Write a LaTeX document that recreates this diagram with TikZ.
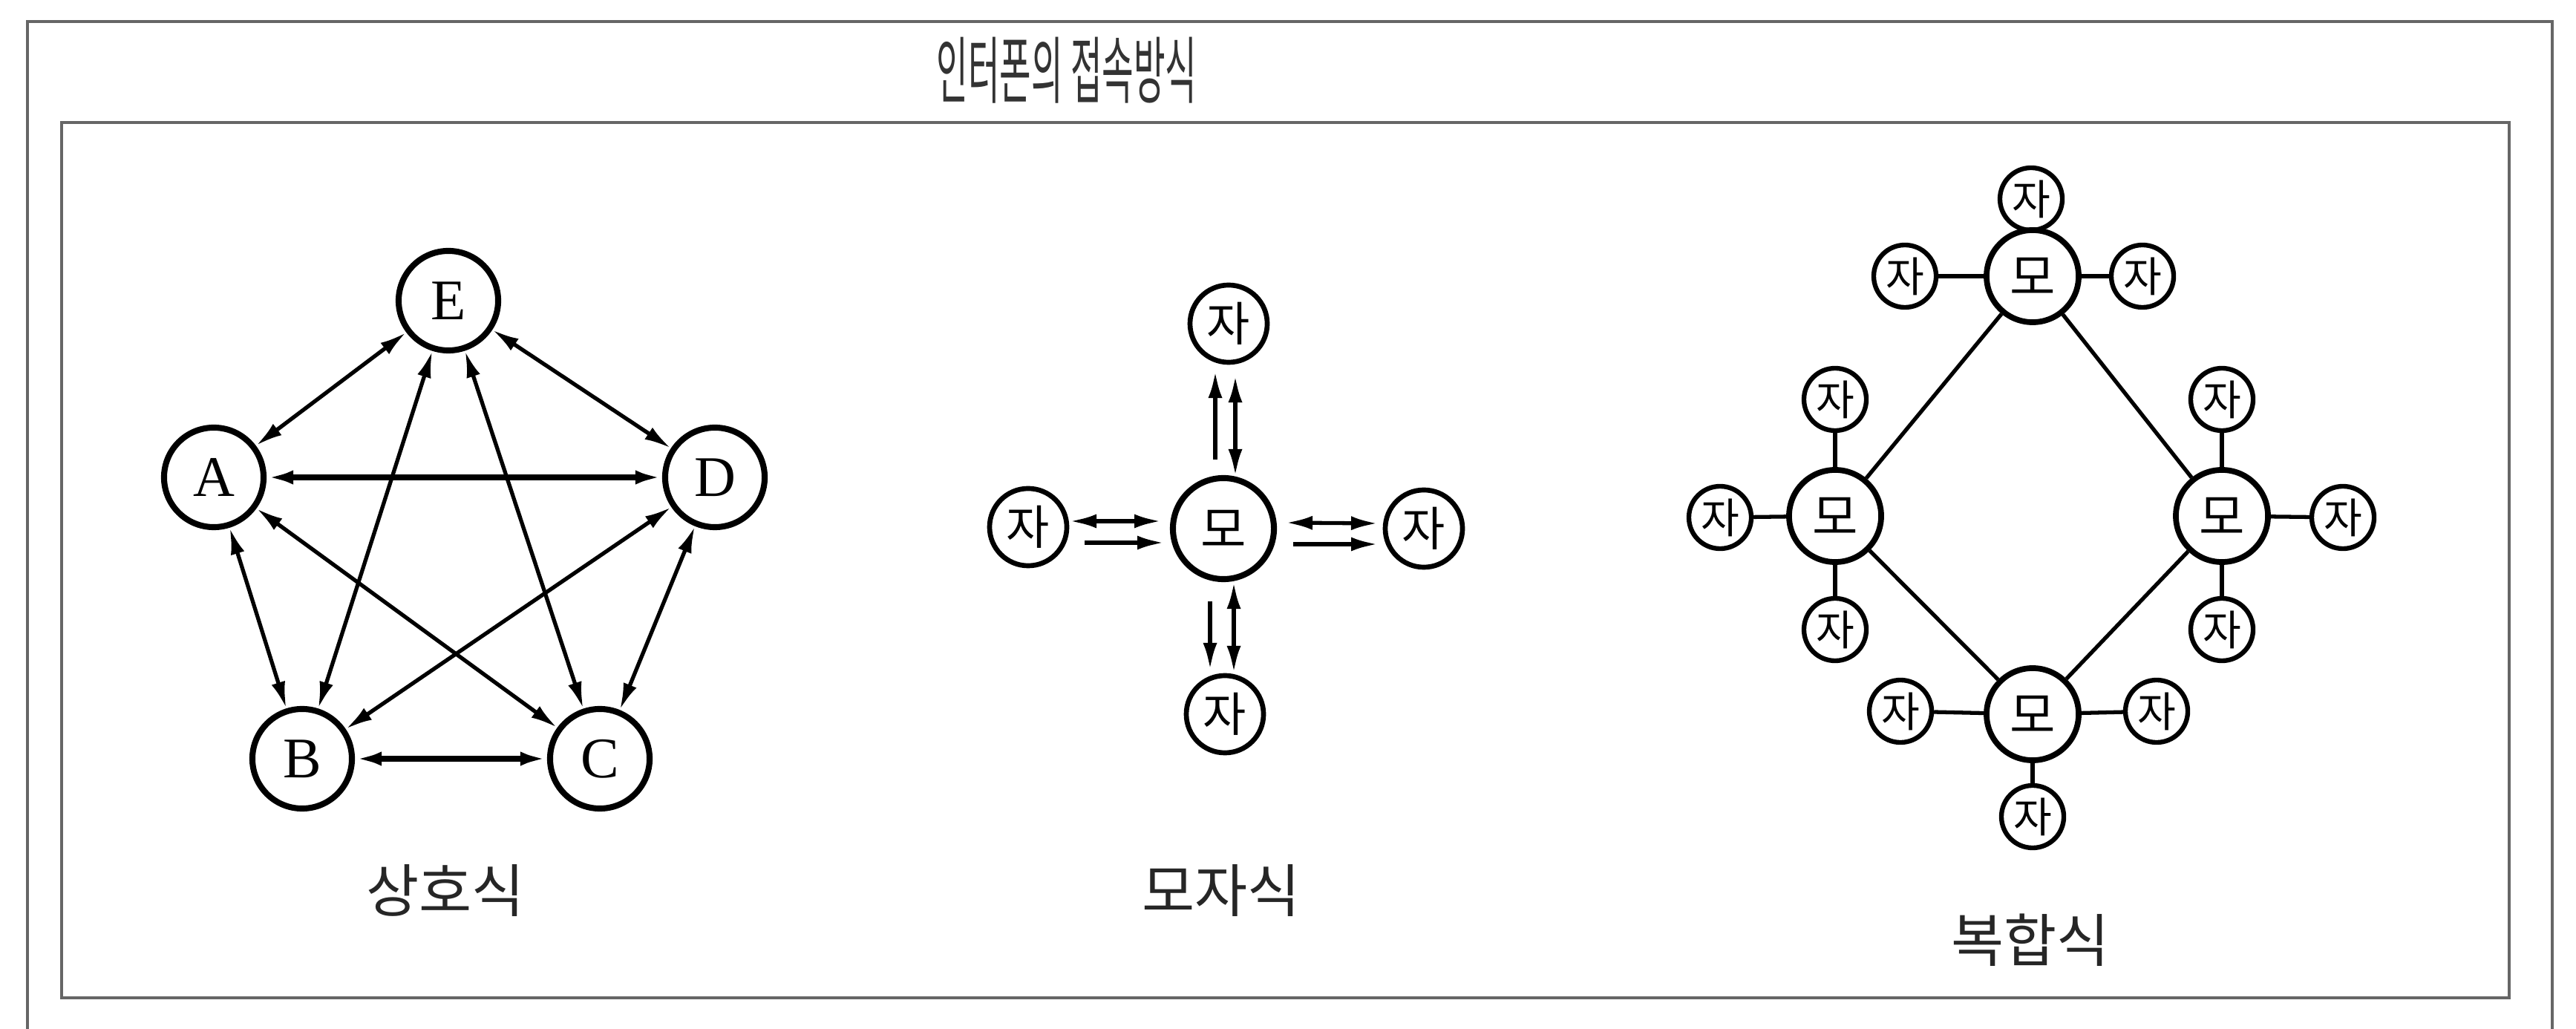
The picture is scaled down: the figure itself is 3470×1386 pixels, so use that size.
\documentclass[tikz,border=0pt]{standalone}
\usepackage{fontspec}
\setmainfont{Liberation Serif}
\newfontfamily\kr{Noto Sans CJK KR}
\usetikzlibrary{arrows.meta,calc}
\begin{document}
\begin{tikzpicture}[x=0.01cm,y=-0.01cm,
  frameline/.style={draw=black!60, line width=1.3pt},
  letternode/.style={circle, draw, line width=2.3pt, minimum size=1.34cm, inner sep=0pt, font=\fontsize{22}{22}\selectfont},
  monode/.style={circle, draw, line width=2.3pt, minimum size=1.36cm, inner sep=0pt, font=\kr\fontsize{19}{19}\selectfont},
  janode/.style={circle, draw, line width=1.9pt, minimum size=1.04cm, inner sep=0pt, font=\kr\fontsize{18}{18}\selectfont},
  rmonode/.style={circle, draw, line width=2.2pt, minimum size=1.24cm, inner sep=0pt, font=\kr\fontsize{19}{19}\selectfont},
  rjanode/.style={circle, draw, line width=1.8pt, minimum size=0.84cm, inner sep=0pt, font=\kr\fontsize{16}{16}\selectfont},
  caption/.style={font=\kr\fontsize{22}{22}\selectfont, text=black!85},
  link/.style={line width=1.5pt},
  thicklink/.style={line width=2.1pt},
  tip/.tip={Latex[length=0.36cm,width=0.19cm]},
  both/.style={tip-tip},
  fwd/.style={-tip}
]
\useasboundingbox (0,0) rectangle (3470,1386);
% frames
\draw[frameline] (37,1386) -- (37,29) -- (3438,29) -- (3438,1386);
\draw[frameline] (83,165) rectangle (3380,1344);
\node (title) at (1437,95) {\kr\fontsize{28}{28}\selectfont\color{black!80}\scalebox{0.47}[1]{인터폰의 접속방식}};

% ---------- 상호식 ----------
\node[letternode] (E) at (604,405) {E};
\node[letternode] (A) at (288,643) {A};
\node[letternode] (D) at (963,643) {D};
\node[letternode] (B) at (407,1022) {B};
\node[letternode] (C) at (808,1022) {C};
\draw[link,both] (E) -- (A);
\draw[link,both] (E) -- (D);
\draw[thicklink,both] (A) -- (D);
\draw[link,both] (A) -- (B);
\draw[link,both] (D) -- (C);
\draw[thicklink,both] (B) -- (C);
\draw[link,both] (E) -- (B);
\draw[link,both] (E) -- (C);
\draw[link,both] (A) -- (C);
\draw[link,both] (D) -- (B);
\node[caption] (cap1) at (600,1200) {상호식};

% ---------- 모자식 ----------
\node[monode] (m) at (1648,712) {모};
\node[janode] (mt) at (1655,436) {자};
\node[janode] (ml) at (1385,710) {자};
\node[janode] (mr) at (1918,712) {자};
\node[janode] (mb) at (1650,962) {자};
\draw[link,fwd]  ($(m)+(-11,-93)$) -- ($(mt)+(-18,64)$);
\draw[link,both] ($(m)+(16,-71)$) -- ($(mt)+(9,70)$);
\draw[link,both] ($(ml)+(56,-8)$) -- ($(m)+(-84,-10)$);
\draw[link,fwd]  ($(ml)+(76,21)$) -- ($(m)+(-80,19)$);
\draw[link,both] ($(m)+(84,-8)$) -- ($(mr)+(-62,-7)$);
\draw[link,fwd]  ($(m)+(94,21)$) -- ($(mr)+(-62,21)$);
\draw[link,fwd]  ($(m)+(-18,98)$) -- ($(mb)+(-20,-60)$);
\draw[link,both] ($(m)+(14,72)$) -- ($(mb)+(12,-56)$);
\node[caption] (cap2) at (1645,1200) {모자식};

% ---------- 복합식 ----------
\node[rmonode] (T) at (2738,372) {모};
\node[rmonode] (L) at (2472,695) {모};
\node[rmonode] (R) at (2993,695) {모};
\node[rmonode] (Bm) at (2738,962) {모};
\node[rjanode] (Tt) at (2736,268) {자};
\node[rjanode] (Tl) at (2566,372) {자};
\node[rjanode] (Tr) at (2886,372) {자};
\node[rjanode] (Lt) at (2472,538) {자};
\node[rjanode] (Ll) at (2317,697) {자};
\node[rjanode] (Lb) at (2472,848) {자};
\node[rjanode] (Rt) at (2993,538) {자};
\node[rjanode] (Rr) at (3156,697) {자};
\node[rjanode] (Rb) at (2993,848) {자};
\node[rjanode] (Bl) at (2560,958) {자};
\node[rjanode] (Br) at (2905,958) {자};
\node[rjanode] (Bb) at (2738,1100) {자};
\draw[link] (T) -- (L);
\draw[link] (T) -- (R);
\draw[link] (L) -- (Bm);
\draw[link] (R) -- (Bm);
\draw[link] (T) -- (Tt);
\draw[link] (T) -- (Tl);
\draw[link] (T) -- (Tr);
\draw[link] (L) -- (Lt);
\draw[link] (L) -- (Ll);
\draw[link] (L) -- (Lb);
\draw[link] (R) -- (Rt);
\draw[link] (R) -- (Rr);
\draw[link] (R) -- (Rb);
\draw[link] (Bm) -- (Bl);
\draw[link] (Bm) -- (Br);
\draw[link] (Bm) -- (Bb);
\node[caption] (cap3) at (2735,1266) {복합식};
\end{tikzpicture}
\end{document}
